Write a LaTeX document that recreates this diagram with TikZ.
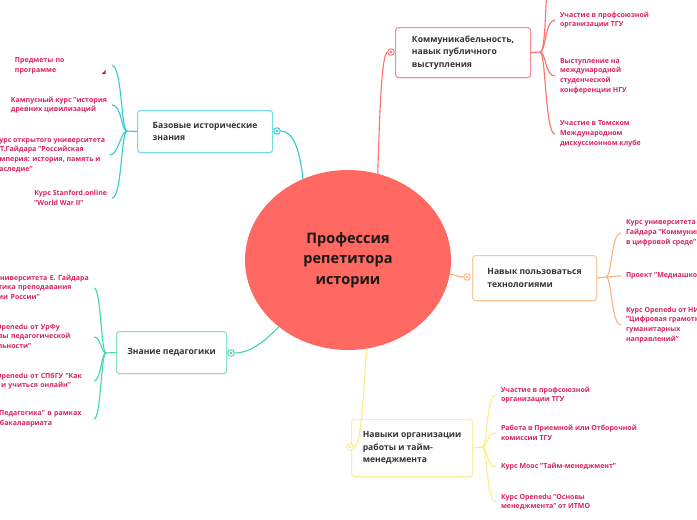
\documentclass[tikz,border=0pt]{standalone}
\usepackage{fontspec}
\setmainfont{Open Sans}
\usetikzlibrary{shapes.geometric,shadows}

\definecolor{bubble}{HTML}{FF6961}
\definecolor{leafred}{HTML}{D8245E}
\definecolor{topicgray}{HTML}{333333}
\definecolor{histline}{HTML}{2FCBD6}
\definecolor{histedge}{HTML}{72DDE5}
\definecolor{commline}{HTML}{FF6F6F}
\definecolor{commedge}{HTML}{F78C8C}
\definecolor{techline}{HTML}{FDB27D}
\definecolor{techedge}{HTML}{FBC89E}
\definecolor{pedline}{HTML}{42D9A0}
\definecolor{pededge}{HTML}{86E4C0}
\definecolor{orgline}{HTML}{FBEE86}
\definecolor{orgedge}{HTML}{F9EFA0}

\tikzset{
	branch/.style={line width=1.1pt},
	topic/.style={draw=#1, fill=white, rounded corners=3pt, line width=1.1pt,
		anchor=north west, inner xsep=8pt, align=left, text=topicgray,
		font=\fontsize{8.6}{12.5}\selectfont\bfseries,
		drop shadow={opacity=0.12, shadow xshift=0.6pt, shadow yshift=-1pt}},
	leaf/.style={inner sep=0pt, outer xsep=5pt, align=left, text=leafred,
		font=\fontsize{7}{9.7}\selectfont\bfseries},
	knob/.style={circle, draw=#1, fill=white, line width=0.9pt, minimum size=6.5pt,
		inner sep=0pt, path picture={\fill[#1] (path picture bounding box.center) circle (1.3pt);}}
}

\begin{document}
\begin{tikzpicture}[x=1pt, y=-1pt]
	\useasboundingbox (0,0) rectangle (697,520);
	\clip (0,0) rectangle (697,520);
	\fill[white] (0,0) rectangle (697,520);

	%% Topics
	\node[ellipse, fill=bubble, minimum width=206pt, minimum height=180pt, inner sep=0pt,
		align=center, text=black!90, font=\fontsize{14.5}{20.5}\selectfont\bfseries]
		(core) at (348,260) {Профессия\\репетитора\\истории};

	\node[topic=histedge, minimum width=135pt, minimum height=42pt]
		(hist) at (137,110) {Базовые исторические\\знания};
	\node[topic=commedge, minimum width=135pt, minimum height=50pt]
		(comm) at (395,27) {Коммуникабельность,\\навык публичного\\выступления};
	\node[topic=techedge, minimum width=124pt, minimum height=45pt]
		(tech) at (472,255) {Навык пользоваться\\технологиями};
	\node[topic=pededge, minimum width=110pt, minimum height=42pt, align=center]
		(ped) at (116,331) {Знание педагогики};
	\node[topic=orgedge, minimum width=121pt, minimum height=57pt]
		(org) at (351,419) {Навыки организации\\работы и тайм-\\менеджмента};

	%% Knobs
	\node[knob=histline] (hk) at (277,131) {};
	\node[knob=commline] (ck) at (391,52) {};
	\node[knob=techline] (tk) at (467,277) {};
	\node[knob=pedline] (pk) at (231,353) {};
	\node[knob=orgline] (ok) at (350,447) {};

	%% Main connectors
	\draw[branch, histline] (hk.east) .. controls +(14,0) and +(-3,-25) .. (core.119);
	\draw[branch, commline] (ck.west) .. controls +(-6,4) and +(2,-60) .. (core.71);
	\draw[branch, techline] (core.-8) .. controls +(8,1) and +(-6,0) .. (tk.west);
	\draw[branch, pedline] (pk.east) .. controls +(18,0) and +(-10,10) .. (core.224);
	\draw[branch, orgline] (core.282) .. controls +(-4,45) and +(8,0) .. (ok.east);

	%% Junctions
	\coordinate (jhist) at (127,131);
	\coordinate (jcomm) at (540,52);
	\coordinate (jtech) at (606,277);
	\coordinate (jped) at (106,353);
	\coordinate (jorg) at (482,447);
	\coordinate (commtop) at (548,-20);

	%% Leaves: history
	\node[leaf, anchor=east, text width=92pt] (hist1) at (112,65.5) {Предметы по\\программе};
	\node[leaf, anchor=east] (hist2) at (112,105) {Кампусный курс "история\\древних цивилизаций};
	\node[leaf, anchor=east] (hist3) at (110,155) {Курс открытого университета\\Е.Т.Гайдара "Российская\\империя: история, память и\\наследие"};
	\node[leaf, anchor=east] (hist4) at (112,198) {Курс Stanford.online\\"World War II"};
	\fill[leafred!85!black] (101.5,74) -- (105.5,74) -- (105.5,70) -- cycle;
	%
	\draw[branch, histline] (hist.west) -- (jhist);
	\draw[branch, histline] (jhist) .. controls +(-6,0) and +(10,0) .. (hist1.east);
	\draw[branch, histline] (jhist) .. controls +(-6,0) and +(10,0) .. (hist2.east);
	\draw[branch, histline] (jhist) .. controls +(-6,0) and +(8,0) .. (hist3.east);
	\draw[branch, histline] (jhist) .. controls +(-6,0) and +(10,0) .. (hist4.east);

	%% Leaves: communication
	\node[leaf, anchor=west] (comm1) at (555,20) {Участие в профсоюзной\\организации ТГУ};
	\node[leaf, anchor=west] (comm2) at (555,76) {Выступление на\\международной\\студенческой\\конференции НГУ};
	\node[leaf, anchor=west] (comm3) at (555,134) {Участие в Томском\\Международном\\дискуссионном клубе};
	%
	\draw[branch, commline] (comm.east) -- (jcomm);
	\draw[branch, commline] (jcomm) .. controls +(6,0) and +(-3,20) .. (commtop);
	\draw[branch, commline] (jcomm) .. controls +(6,0) and +(-10,0) .. (comm1.west);
	\draw[branch, commline] (jcomm) .. controls +(6,0) and +(-10,0) .. (comm2.west);
	\draw[branch, commline] (jcomm) .. controls +(6,0) and +(-10,0) .. (comm3.west);

	%% Leaves: technologies
	\node[leaf, anchor=west] (tech1) at (621,233) {Курс университета Е.\\Гайдара "Коммуникации\\в цифровой среде"};
	\node[leaf, anchor=west] (tech2) at (621,276) {Проект "Медиашкола"};
	\node[leaf, anchor=west] (tech3) at (621,325) {Курс Openedu от НИУ ВШЭ\\"Цифровая грамотность\\гуманитарных\\направлений"};
	%
	\draw[branch, techline] (tech.east) -- (jtech);
	\draw[branch, techline] (jtech) .. controls +(6,0) and +(-10,0) .. (tech1.west);
	\draw[branch, techline] (jtech) .. controls +(6,0) and +(-10,0) .. (tech2.west);
	\draw[branch, techline] (jtech) .. controls +(6,0) and +(-10,0) .. (tech3.west);

	%% Leaves: pedagogy
	\node[leaf, anchor=east, text width=112pt] (ped1) at (94,288) {Курс университета Е. Гайдара\\"Практика преподавания\\истории России"};
	\node[leaf, anchor=east, text width=112pt] (ped2) at (94,337) {Курс Openedu от УрФу\\"Основы педагогической\\деятельности"};
	\node[leaf, anchor=east, text width=112pt] (ped3) at (94,381) {Курс Openedu от СПбГУ "Как\\учить и учиться онлайн"};
	\node[leaf, anchor=east, text width=112pt] (ped4) at (94,419) {Курс "Педагогика" в рамках\\курса бакалавриата};
	%
	\draw[branch, pedline] (ped.west) -- (jped);
	\draw[branch, pedline] (jped) .. controls +(-5,0) and +(7,0) .. (ped1.east);
	\draw[branch, pedline] (jped) .. controls +(-5,0) and +(7,0) .. (ped2.east);
	\draw[branch, pedline] (jped) .. controls +(-5,0) and +(7,0) .. (ped3.east);
	\draw[branch, pedline] (jped) .. controls +(-5,0) and +(7,0) .. (ped4.east);

	%% Leaves: organisation
	\node[leaf, anchor=west] (org1) at (496,395) {Участие в профсоюзной\\организации ТГУ};
	\node[leaf, anchor=west] (org2) at (496,433) {Работа в Приемной или Отборочной\\комиссии ТГУ};
	\node[leaf, anchor=west] (org3) at (496,467) {Курс Mooc "Тайм-менеджмент"};
	\node[leaf, anchor=west] (org4) at (496,502) {Курс Openedu "Основы\\менеджмента" от ИТМО};
	%
	\draw[branch, orgline] (org.east) -- (jorg);
	\draw[branch, orgline] (jorg) .. controls +(6,0) and +(-10,0) .. (org1.west);
	\draw[branch, orgline] (jorg) .. controls +(6,0) and +(-10,0) .. (org2.west);
	\draw[branch, orgline] (jorg) .. controls +(6,0) and +(-10,0) .. (org3.west);
	\draw[branch, orgline] (jorg) .. controls +(6,0) and +(-10,0) .. (org4.west);

\end{tikzpicture}
\end{document}
